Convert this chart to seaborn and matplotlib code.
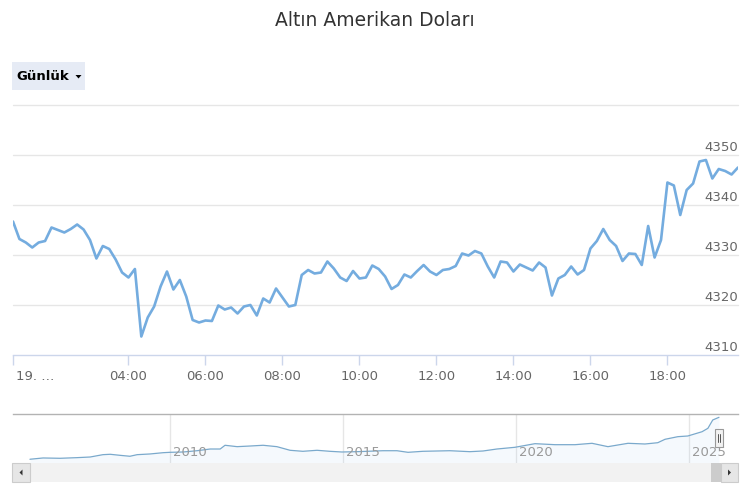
import numpy as np
import pandas as pd
import matplotlib
matplotlib.use("Agg")
import matplotlib.pyplot as plt
import matplotlib.transforms as mtrans
from matplotlib.patches import Rectangle, Polygon
from matplotlib.lines import Line2D
import seaborn as sns

# ---------------- data ----------------
title = "Altın Amerikan Doları"
button_label = "Günlük"

prices = [
    4336.7, 4333.2, 4332.5, 4331.5, 4332.5, 4332.8, 4335.5, 4335.0, 4334.5, 4335.2,
    4336.1, 4335.1, 4333.0, 4329.3, 4331.8, 4331.2, 4329.1, 4326.5, 4325.5, 4327.2,
    4313.7, 4317.5, 4319.7, 4323.7, 4326.7, 4323.1, 4325.0, 4321.7, 4317.0, 4316.5,
    4316.9, 4316.8, 4319.9, 4319.1, 4319.5, 4318.3, 4319.7, 4320.0, 4317.9, 4321.3,
    4320.5, 4323.3, 4321.5, 4319.7, 4320.0, 4326.0, 4327.0, 4326.3, 4326.5, 4328.7,
    4327.3, 4325.5, 4324.8, 4326.8, 4325.3, 4325.5, 4327.9, 4327.2, 4325.7, 4323.2,
    4324.0, 4326.1, 4325.5, 4326.8, 4328.0, 4326.7, 4326.0, 4327.0, 4327.2, 4327.8,
    4330.3, 4329.9, 4330.8, 4330.3, 4327.7, 4325.5, 4328.7, 4328.5, 4326.7, 4328.1,
    4327.5, 4326.9, 4328.5, 4327.5, 4321.9, 4325.3, 4326.0, 4327.7, 4326.1, 4327.0,
    4331.3, 4332.8, 4335.2, 4333.0, 4331.8, 4328.8, 4330.3, 4330.2, 4328.0, 4335.8,
    4329.5, 4333.0, 4344.5, 4343.9, 4338.0, 4343.0, 4344.3, 4348.7, 4349.0, 4345.3,
    4347.2, 4346.8, 4346.1, 4347.5,
]
start_hour = 1.0
step_minutes = 10

hour_ticks = [1, 4, 6, 8, 10, 12, 14, 16, 18]
hour_labels = ["19. …", "04:00", "06:00", "08:00", "10:00", "12:00", "14:00", "16:00", "18:00"]

y_ticks = [4310, 4320, 4330, 4340, 4350, 4360]
y_labels = ["4310", "4320", "4330", "4340", "4350", ""]

nav_years = [2005.95, 2006.33, 2006.82, 2007.31, 2007.69, 2008.06, 2008.27, 2008.55, 2008.84,
             2009.05, 2009.42, 2009.80, 2010.00, 2010.38, 2010.78, 2011.16, 2011.45, 2011.59,
             2011.94, 2012.31, 2012.69, 2013.09, 2013.47, 2013.84, 2014.25, 2014.62, 2014.97,
             2015.40, 2016.16, 2016.56, 2016.88, 2017.31, 2018.09, 2018.67, 2019.05, 2019.45,
             2019.97, 2020.55, 2021.13, 2021.71, 2022.20, 2022.66, 2023.24, 2023.73, 2024.10,
             2024.31, 2024.68, 2024.97, 2025.38, 2025.55, 2025.69, 2025.87]
nav_prices = [420, 540, 510, 570, 630, 850, 885, 790, 700,
              850, 915, 1035, 1070, 1100, 1220, 1380, 1380, 1730,
              1600, 1660, 1730, 1600, 1260, 1165, 1260, 1165, 1100,
              1130, 1220, 1220, 1070, 1165, 1220, 1130, 1195, 1380,
              1540, 1880, 1785, 1785, 1915, 1600, 1915, 1850, 1970,
              2290, 2535, 2600, 3000, 3320, 4100, 4350]
nav_year_ticks = [2010, 2015, 2020, 2025]

# ---------------- style ----------------
sns.set_theme(style="white")
plt.rcParams["font.family"] = ["DejaVu Sans"]

W, H = 750, 500
fig = plt.figure(figsize=(7.5, 5), dpi=100)
fig.patch.set_facecolor("white")


def fx(px):
    return px / W


def fy(py):
    return 1 - py / H


def frect(x0, y0, x1, y1, **kw):
    r = Rectangle((fx(x0), fy(y1)), fx(x1) - fx(x0), fy(y0) - fy(y1),
                  transform=fig.transFigure, **kw)
    fig.add_artist(r)
    return r


# ---------------- main chart ----------------
ax = fig.add_axes([fx(13), fy(355), fx(738) - fx(13), fy(105) - fy(355)])
hours = start_hour + np.arange(len(prices)) * step_minutes / 60.0
df = pd.DataFrame({"hour": hours, "price": prices})
sns.lineplot(data=df, x="hour", y="price", ax=ax, color="#74acdf", lw=1.9)
ax.set_xlim(hours[0], hours[-1])
ax.set_ylim(4310, 4360)
ax.set_xlabel("")
ax.set_ylabel("")
ax.set_facecolor("white")

for s in ["left", "right", "top"]:
    ax.spines[s].set_visible(False)
ax.spines["bottom"].set_color("#ccd6eb")
ax.spines["bottom"].set_linewidth(1)

ax.grid(False)
ax.set_axisbelow(True)
for v in y_ticks[1:]:
    ax.axhline(v, color="#e6e6e6", lw=1, zorder=0, clip_on=False)

ax.set_xticks(hour_ticks, hour_labels)
ax.tick_params(axis="x", direction="out", length=7.5, width=1, color="#ccd6eb",
               labelcolor="#666666", labelsize=9.5, pad=3.5, bottom=True)
xl = ax.get_xticklabels()
xl[0].set_ha("left")
xl[0].set_transform(xl[0].get_transform() + mtrans.ScaledTranslation(3 / 100, 0, fig.dpi_scale_trans))

ax.yaxis.tick_right()
ax.set_yticks(y_ticks, y_labels)
ax.tick_params(axis="y", length=0, pad=0, labelsize=9.5, labelcolor="#666666", right=False)
for lbl in ax.get_yticklabels():
    lbl.set_ha("right")
    lbl.set_va("baseline")
    lbl.set_transform(lbl.get_transform() + mtrans.ScaledTranslation(0, 4.5 / 100, fig.dpi_scale_trans))

# ---------------- title & button ----------------
fig.text(0.5, fy(20), title, ha="center", va="center", fontsize=13.5, color="#333333")
frect(12, 62, 85, 90, facecolor="#e6ebf5", edgecolor="none")
fig.text(fx(16), fy(76.5), button_label, ha="left", va="center", fontsize=9.5,
         fontweight="bold", color="#000000")
fig.add_artist(Polygon([[fx(75.5), fy(75)], [fx(81.5), fy(75)], [fx(78.5), fy(78.5)]],
                       closed=True, transform=fig.transFigure, facecolor="#000000", edgecolor="none"))

# ---------------- navigator ----------------
nav = fig.add_axes([fx(13), fy(463), fx(738) - fx(13), fy(414) - fy(463)])
nav.set_facecolor("white")
nav.fill_between(nav_years, nav_prices, 0, color="#7cb5ec", alpha=0.07, lw=0)
sns.lineplot(x=nav_years, y=nav_prices, ax=nav, color="#7aa9cc", lw=0.9)
nav.set_xlim(2005.46, 2026.42)
nav.set_ylim(69, 4661)
nav.set_xlabel("")
nav.set_ylabel("")
nav.set_yticks([])
nav.set_xticks(nav_year_ticks)
nav.tick_params(axis="x", length=0, labelbottom=False)
nav.grid(False)
for yr in nav_year_ticks:
    nav.axvline(yr, color="#e6e6e6", lw=1, zorder=0)
for s in ["left", "right", "bottom"]:
    nav.spines[s].set_visible(False)
nav.spines["top"].set_color("#b3b3b3")
nav.spines["top"].set_linewidth(1)
btrans = mtrans.blended_transform_factory(nav.transData, nav.transAxes)
for yr in nav_year_ticks:
    nav.text(yr, 10 / 49, str(yr), transform=btrans + mtrans.ScaledTranslation(3 / 100, 0, fig.dpi_scale_trans),
             ha="left", va="center", fontsize=9.5, color="#999999", zorder=5)

# handle
frect(715, 429, 723, 447, facecolor="#f2f2f2", edgecolor="#999999", lw=0.8, zorder=10)
for xx in (718, 720):
    fig.add_artist(Line2D([fx(xx), fx(xx)], [fy(434), fy(442)], transform=fig.transFigure,
                          color="#555555", lw=0.7, zorder=11))

# ---------------- scrollbar ----------------
frect(12, 463, 738, 482, facecolor="#f2f2f2", edgecolor="none")
frect(711, 463, 721, 482, facecolor="#cccccc", edgecolor="none")
frect(12, 463, 30, 482, facecolor="#e6e6e6", edgecolor="#cccccc", lw=0.8)
frect(721, 463, 738, 482, facecolor="#e6e6e6", edgecolor="#cccccc", lw=0.8)
fig.add_artist(Polygon([[fx(22.5), fy(469.5)], [fx(22.5), fy(475.5)], [fx(19.5), fy(472.5)]],
                       closed=True, transform=fig.transFigure, facecolor="#333333", edgecolor="none"))
fig.add_artist(Polygon([[fx(728), fy(469.5)], [fx(728), fy(475.5)], [fx(731), fy(472.5)]],
                       closed=True, transform=fig.transFigure, facecolor="#333333", edgecolor="none"))

fig.savefig("out.png", dpi=100, facecolor="white")
